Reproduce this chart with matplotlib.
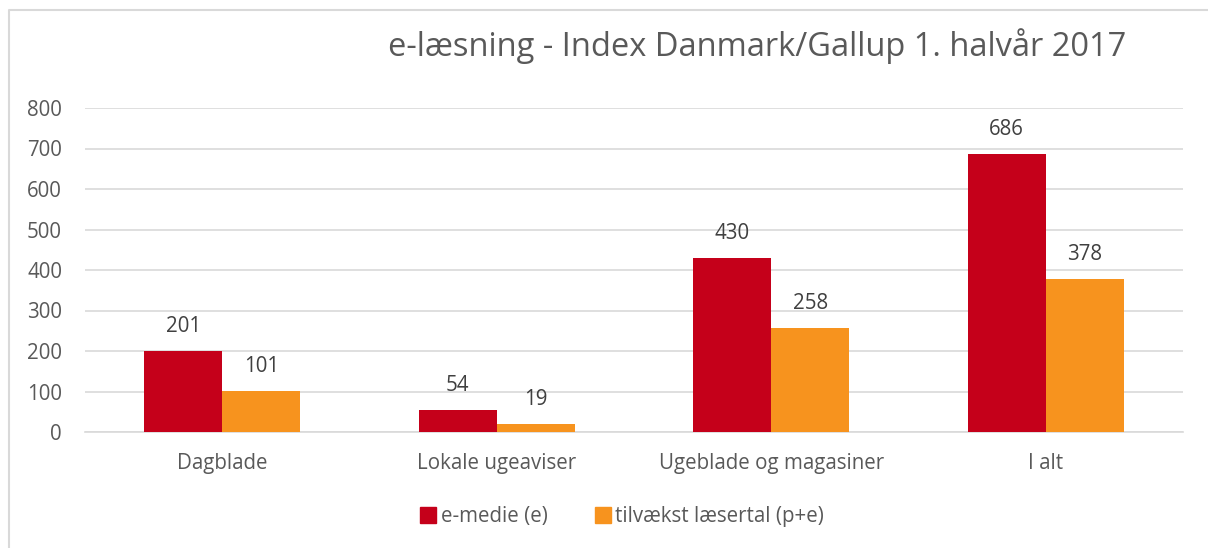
import matplotlib
matplotlib.use("Agg")
import matplotlib.pyplot as plt
from matplotlib.lines import Line2D
import numpy as np

categories = ["Dagblade", "Lokale ugeaviser", "Ugeblade og magasiner", "I alt"]
e_medie = [201, 54, 430, 686]
tilvaekst = [101, 19, 258, 378]
series_names = ["e-medie (e)", "tilvækst læsertal (p+e)"]
title = "e-læsning - Index Danmark/Gallup 1. halvår 2017"
yticks = [0, 100, 200, 300, 400, 500, 600, 700, 800]

plt.rcParams['font.family'] = ['Open Sans', 'DejaVu Sans']
txt = "#595959"
red = "#C5001A"
orange = "#F7931E"
fs = 14.8

fig = plt.figure(figsize=(12.08, 5.48), dpi=100)
ax = fig.add_axes([85/1208, 116/548, (1183-85)/1208, (432-108)/548])

x = np.arange(len(categories))
w = 0.284
b1 = ax.bar(x - w/2, e_medie, w, color=red, label=series_names[0], zorder=3)
b2 = ax.bar(x + w/2, tilvaekst, w, color=orange, label=series_names[1], zorder=3)

for bars in (b1, b2):
    for r in bars:
        ax.annotate(f"{int(r.get_height())}", (r.get_x() + r.get_width()/2, r.get_height()),
                    xytext=(0, 10), textcoords="offset points", ha="center", va="bottom",
                    fontsize=fs, color="#404040")

ax.set_xlim(-0.5, 3.5)
ax.set_ylim(0, 800)
ax.set_yticks(yticks)
ax.set_xticks(x)
ax.set_xticklabels(categories)
ax.yaxis.grid(True, color="#d9d9d9", linewidth=1.2, zorder=0)
ax.set_axisbelow(True)
for s in ["top", "right", "left"]:
    ax.spines[s].set_visible(False)
ax.spines["bottom"].set_color("#d9d9d9")
ax.spines["bottom"].set_linewidth(1.2)
ax.tick_params(axis="both", length=0, labelsize=fs, colors=txt)
ax.tick_params(axis="y", pad=16.5)
ax.tick_params(axis="x", pad=15)

fig.text(0.627, 0.916, title, ha="center", va="center", fontsize=23.5, color=txt)

handles = [Line2D([], [], marker="s", linestyle="", markersize=11, color=red),
           Line2D([], [], marker="s", linestyle="", markersize=11, color=orange)]
fig.legend(handles, series_names, loc="center", bbox_to_anchor=(0.514, 0.057), ncol=2,
           frameon=False, fontsize=fs, labelcolor=txt, handletextpad=0.1, columnspacing=2.2,
           handlelength=1.0)

# outer border
fig.add_artist(Line2D([9/1208, 9/1208, 1.0], [0, 1-9.5/548, 1-9.5/548],
                      transform=fig.transFigure, color="#d9d9d9", linewidth=1.5))

fig.savefig("out.png", dpi=100, facecolor="white")
